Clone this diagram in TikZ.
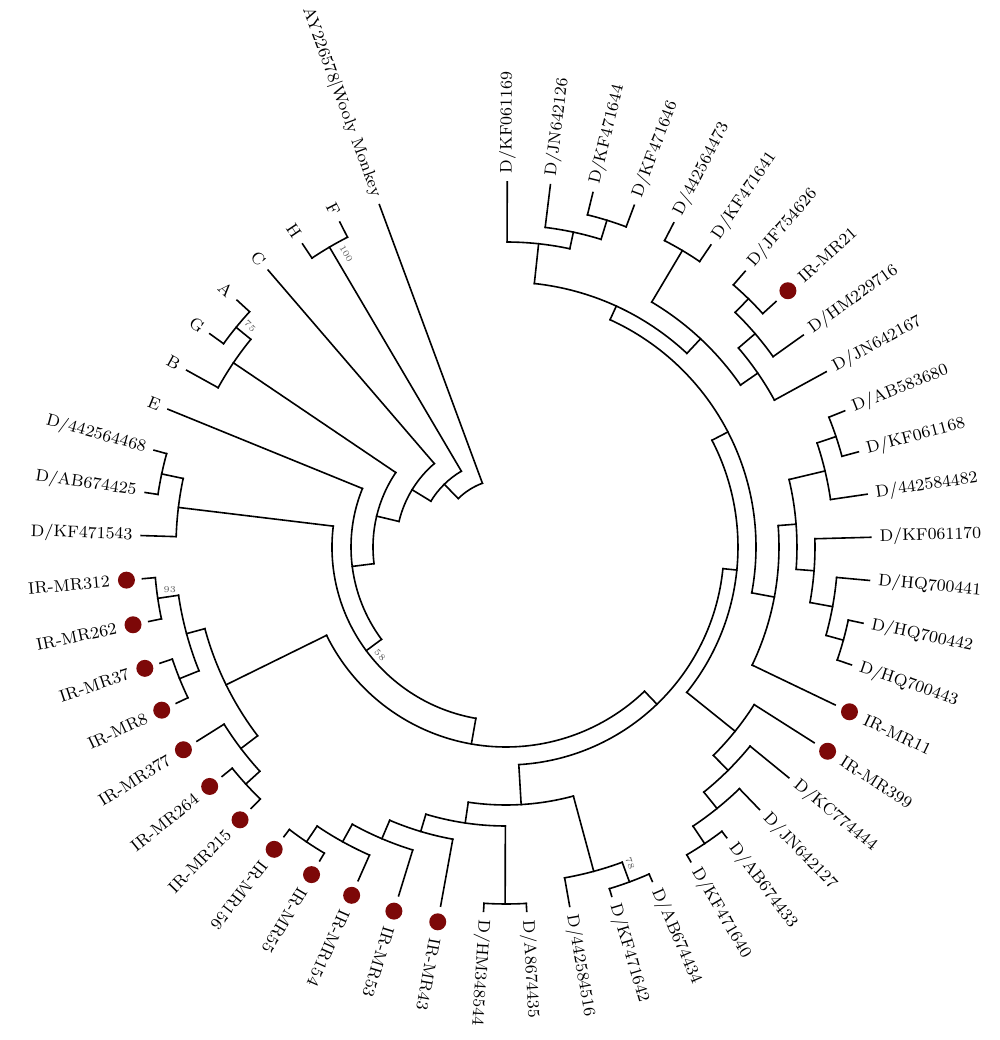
\documentclass[tikz,border=0pt]{standalone}
\usepackage{tikz}

\definecolor{dotred}{RGB}{125,8,8}
\definecolor{bootgray}{RGB}{95,95,95}

\newcommand{\clade}[6]{%
  \draw (#2:#3) -- (#2:#4) coordinate (#1);
  \draw (#5:#4) arc[start angle=#5, end angle=#6, radius=#4];}

\begin{document}
\begin{tikzpicture}[x=0.5pt, y=0.5pt, line width=0.8pt, line cap=rect]
            \tikzstyle{leaflab}=[inner sep=2pt, font=\fontsize{8.4}{9}\selectfont]
            \tikzstyle{irdot}=[circle, fill=dotred, inner sep=0pt, minimum size=8.5pt]
            \tikzstyle{boot}=[inner sep=0pt, text=bootgray, font=\fontsize{4.5}{4.5}\selectfont]

            \useasboundingbox (-506,-493) rectangle (494,547);

            \coordinate (root) at (122.43:68);
            \draw (110.3:68) arc[start angle=110.3, end angle=134.55, radius=68];

            \clade{nX}{134.55}{68}{88}{120.485}{148.62}
            \clade{nFH}{120.485}{88}{348}{117.09}{123.88}
            \clade{nY}{148.62}{88}{110}{130.67}{166.575}
            \clade{nZ}{166.575}{110}{133}{145.95}{187.2}
            \clade{nABG}{145.95}{133}{329}{140.855}{151.04}
            \clade{nAG}{140.855}{329}{348}{137.46}{144.25}
            \clade{nW}{187.2}{133}{155}{157.83}{216.57}
            \clade{nV}{216.57}{155}{174}{173.11}{260.03}
            \clade{nDa}{173.11}{174}{330}{168.015}{178.2}
            \clade{nDb}{168.015}{330}{352}{164.62}{171.41}
            \clade{nQ}{260.03}{174}{200}{206.21}{313.84}
            \clade{nIa}{206.21}{200}{312}{195.175}{217.24}
            \clade{nIb}{195.175}{312}{331}{188.385}{201.965}
            \clade{nIc}{188.385}{331}{352}{184.99}{191.78}
            \clade{nId}{201.965}{331}{352}{198.57}{205.36}
            \clade{nIe}{217.24}{312}{333}{212.15}{222.335}
            \clade{nIf}{222.335}{333}{352}{218.94}{225.73}
            \clade{nQb}{313.84}{200}{218}{273.37}{354.3}
            \clade{nBa}{273.37}{218}{258}{261.59}{285.14}
            \clade{nBb}{261.59}{258}{279}{253.31}{269.865}
            \clade{nBc}{253.31}{279}{297}{246.95}{259.68}
            \clade{nBd}{246.95}{297}{317}{241.0}{252.89}
            \clade{nBe}{241.0}{317}{337}{235.915}{246.10}
            \clade{nBf}{235.915}{337}{356}{232.52}{239.31}
            \clade{nBg}{269.865}{279}{357}{266.47}{273.26}
            \clade{nBh}{285.14}{258}{336}{280.05}{290.235}
            \clade{nBi}{290.235}{336}{357}{286.84}{293.63}
            \clade{nT}{354.3}{218}{232}{321.2}{387.4}
            \clade{nSa}{321.2}{232}{294}{314.85}{327.58}
            \clade{nSb}{314.85}{294}{315}{308.91}{320.79}
            \clade{nSc}{308.91}{315}{336}{303.815}{314.0}
            \clade{nSd}{303.815}{336}{357}{300.42}{307.21}
            \clade{nR}{387.4}{232}{250}{349.43}{425.4}
            \clade{nRa}{349.43}{250}{273}{334.37}{364.5}
            \clade{nRb}{364.5}{273}{291}{355.59}{373.41}
            \clade{nRc}{373.41}{291}{328}{368.32}{378.5}
            \clade{nRd}{378.5}{328}{348}{375.11}{381.9}
            \clade{nRe}{355.59}{291}{309}{349.65}{361.53}
            \clade{nRf}{349.65}{309}{332}{344.56}{354.74}
            \clade{nRg}{344.56}{332}{350}{341.16}{347.95}
            \clade{nK}{425.4}{250}{265}{406.94}{443.86}
            \clade{nKa}{443.86}{265}{305}{437.92}{449.8}
            \clade{nKb}{437.92}{305}{322}{432.83}{443.01}
            \clade{nKc}{432.83}{322}{342}{429.43}{436.22}
            \clade{nKd}{406.94}{265}{285}{394.63}{419.25}
            \clade{nKe}{419.25}{285}{345}{415.85}{422.64}
            \clade{nKf}{394.63}{285}{306}{388.69}{400.57}
            \clade{nKg}{400.57}{306}{328}{395.48}{405.67}
            \clade{nKh}{405.67}{328}{347}{402.27}{409.06}

            \foreach \j/\rp/\txt in {0/68/{AY226578|Wooly Monkey}, 1/348/F, 2/348/H, 3/110/C,
                4/348/A, 5/348/G, 6/329/B, 7/155/E, 8/352/{D/442564468}, 9/352/{D/AB674425},
                10/330/{D/KF471543}, 23/357/{D/HM348544}, 24/357/{D/A8674435}, 25/336/{D/442584516},
                26/357/{D/KF471642}, 27/357/{D/AB674434}, 28/357/{D/KF471640}, 29/357/{D/AB674433},
                30/336/{D/JN642127}, 31/315/{D/KC774444}, 34/350/{D/HQ700443}, 35/350/{D/HQ700442},
                36/332/{D/HQ700441}, 37/309/{D/KF061170}, 38/328/{D/442584482}, 39/348/{D/KF061168},
                40/348/{D/AB583680}, 41/306/{D/JN642167}, 42/328/{D/HM229716}, 44/347/{D/JF754626},
                45/345/{D/KF471641}, 46/345/{D/442564473}, 47/342/{D/KF471646}, 48/342/{D/KF471644},
                49/322/{D/JN642126}, 50/305/{D/KF061169}}{
                \pgfmathsetmacro\ang{110.3+6.79*\j}
                \coordinate (tip\j) at (\ang:365);
                \draw (\ang:\rp) -- (tip\j);
                \ifnum\j<18
                    \pgfmathsetmacro\rot{\ang+180}
                    \node[leaflab, rotate=\rot, anchor=east] (leaf\j) at (\ang:369) {\txt};
                \else
                    \node[leaflab, rotate=\ang, anchor=west] (leaf\j) at (\ang:369) {\txt};
                \fi
            }

            \foreach \j/\rp/\txt in {11/352/IR-MR312, 12/352/IR-MR262, 13/352/IR-MR37, 14/352/IR-MR8,
                15/333/IR-MR377, 16/352/IR-MR264, 17/352/IR-MR215, 18/356/IR-MR156, 19/356/IR-MR55,
                20/337/IR-MR154, 21/317/IR-MR53, 22/297/IR-MR43, 32/294/IR-MR399, 33/273/IR-MR11,
                43/347/IR-MR21}{
                \pgfmathsetmacro\ang{110.3+6.79*\j}
                \coordinate (tip\j) at (\ang:365);
                \draw (\ang:\rp) -- (tip\j);
                \node[irdot] (dot\j) at (\ang:381) {};
                \ifnum\j<18
                    \pgfmathsetmacro\rot{\ang+180}
                    \node[leaflab, rotate=\rot, anchor=east] (leaf\j) at (\ang:393) {\txt};
                \else
                    \node[leaflab, rotate=\ang, anchor=west] (leaf\j) at (\ang:393) {\txt};
                \fi
            }

            \node[boot, rotate=-60] (bsFH) at (118.6:334) {100};
            \node[boot, rotate=-45] (bsAG) at (139.2:338) {75};
            \node[boot, rotate=-45] (bsV) at (220.6:166) {58};
            \node[boot, rotate=0] (bsIc) at (187.3:339) {93};
            \node[boot, rotate=-70] (bsBi) at (291.4:340) {78};
        \end{tikzpicture}
\end{document}
